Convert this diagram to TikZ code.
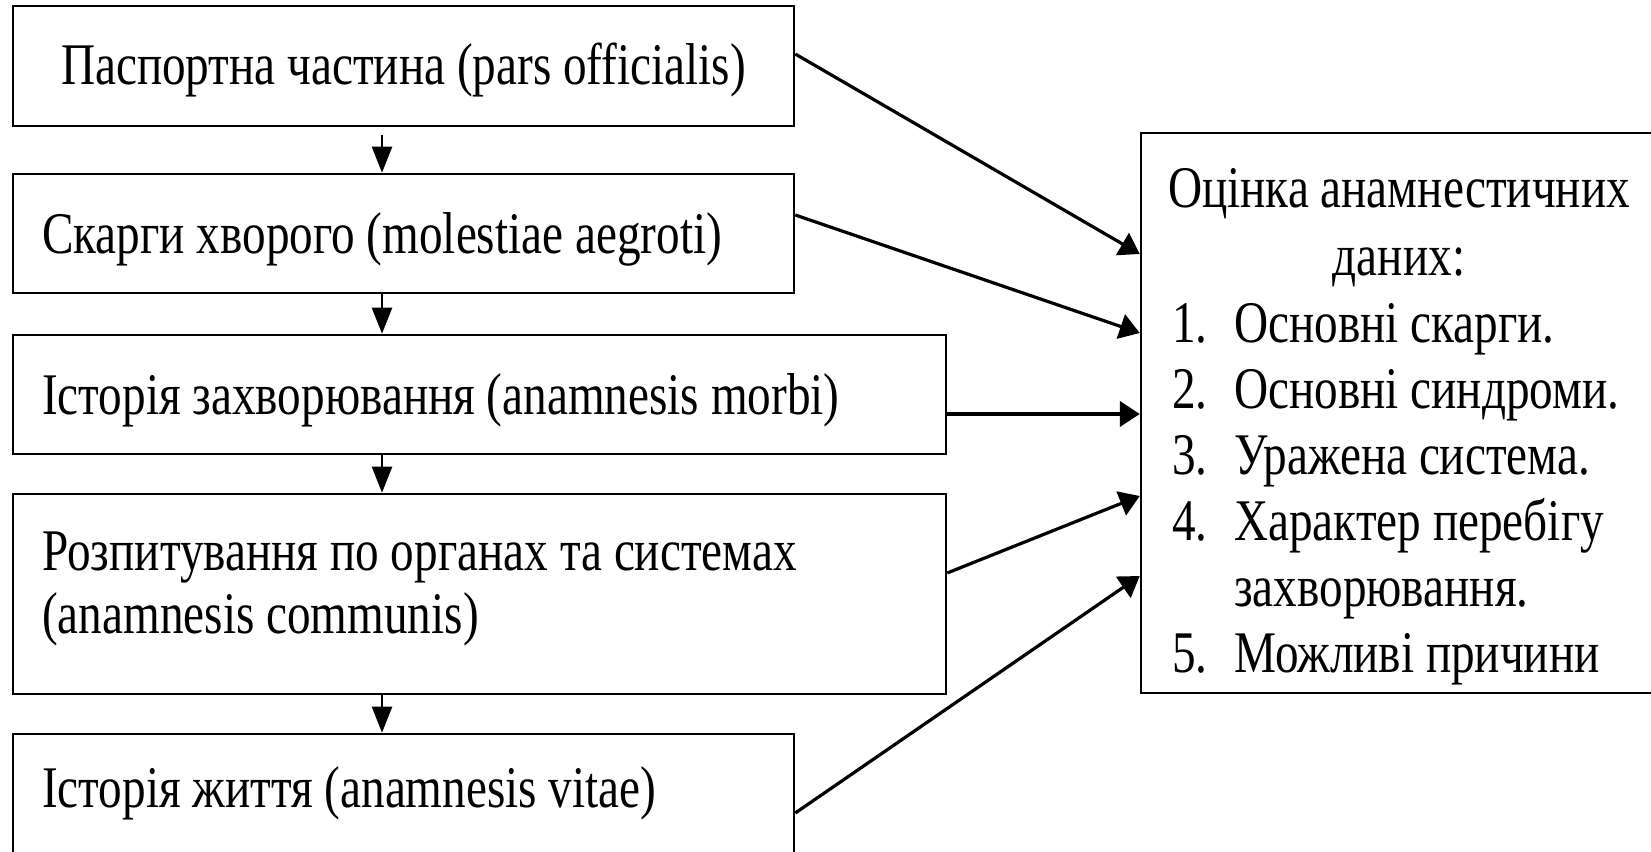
\documentclass[tikz,border=0pt]{standalone}
\usepackage{fontspec}
\setmainfont{Liberation Serif}[FakeStretch=0.80]
\usetikzlibrary{arrows.meta}
\begin{document}
\begin{tikzpicture}[x=0.75pt,y=-0.75pt,
  box/.style={draw, line width=1.9pt, inner sep=0pt},
  txt/.style={inner sep=0pt, font=\fontsize{44.25pt}{47pt}\selectfont},
  downarrow/.style={line width=1.7pt, -{Triangle[length=19.5pt,width=15pt]}},
  sidearrow/.style={line width=2.4pt, -{Triangle[length=15pt,width=19pt]}}]
\useasboundingbox (0,0) rectangle (1651,852);
% left boxes
\node[box, minimum width=585.75pt, minimum height=90pt] (b1) at (403.5,66) {};
\node[box, minimum width=585.75pt, minimum height=89.25pt] (b2) at (403.5,233.5) {};
\node[box, minimum width=699.75pt, minimum height=89.25pt] (b3) at (479.5,394.5) {};
\node[box, minimum width=699.75pt, minimum height=150pt] (b4) at (479.5,594) {};
\node[box, minimum width=585.75pt, minimum height=90pt] (b5) at (403.5,794) {};
% right box
\node[box, minimum width=387.75pt, minimum height=420pt] (R) at (1399.5,413) {};
% texts left
\node[txt, anchor=base] (t1) at (403.5,85) {Паспортна частина (pars officialis)};
\node[txt, anchor=base west] (t2) at (42,253) {Скарги хворого (molestiae aegroti)};
\node[txt, anchor=base west] (t3) at (42,414) {Історія захворювання (anamnesis morbi)};
\node[txt, anchor=base west] (t4a) at (42,570) {Розпитування по органах та системах};
\node[txt, anchor=base west] (t4b) at (42,633) {(anamnesis communis)};
\node[txt, anchor=base west] (t5) at (42,807) {Історія життя (anamnesis vitae)};
% texts right
\node[txt, anchor=base] (r0) at (1399,208) {Оцінка анамнестичних};
\node[txt, anchor=base] (r1) at (1399,275) {даних:};
\node[txt, anchor=base west] (n1) at (1172,342) {1.};
\node[txt, anchor=base west] (s1) at (1234,342) {Основні скарги.};
\node[txt, anchor=base west] (n2) at (1172,408) {2.};
\node[txt, anchor=base west] (s2) at (1234,408) {Основні синдроми.};
\node[txt, anchor=base west] (n3) at (1172,474) {3.};
\node[txt, anchor=base west] (s3) at (1234,474) {Уражена система.};
\node[txt, anchor=base west] (n4) at (1172,540) {4.};
\node[txt, anchor=base west] (s4) at (1234,540) {Характер перебігу};
\node[txt, anchor=base west] (s4b) at (1234,606) {захворювання.};
\node[txt, anchor=base west] (n5) at (1172,672) {5.};
\node[txt, anchor=base west] (s5) at (1234,672) {Можливі причини};
% vertical arrows
\coordinate (ax) at (382,0);
\draw[downarrow] ([yshift=-6pt]b1.south -| ax) -- (b2.north -| ax);
\draw[downarrow] (b2.south -| ax) -- (b3.north -| ax);
\draw[downarrow] (b3.south -| ax) -- (b4.north -| ax);
\draw[downarrow] (b4.south -| ax) -- (b5.north -| ax);
% side arrows
\draw[sidearrow] (b1.east |- 0,54) -- (R.west |- 0,254);
\draw[sidearrow] (b2.east |- 0,215) -- (R.west |- 0,333);
\draw[sidearrow] (b3.east |- 0,414) -- (R.west |- 0,414);
\draw[sidearrow] (b4.east |- 0,573) -- (R.west |- 0,496);
\draw[sidearrow] (b5.east |- 0,813) -- (R.west |- 0,576);
\end{tikzpicture}
\end{document}
